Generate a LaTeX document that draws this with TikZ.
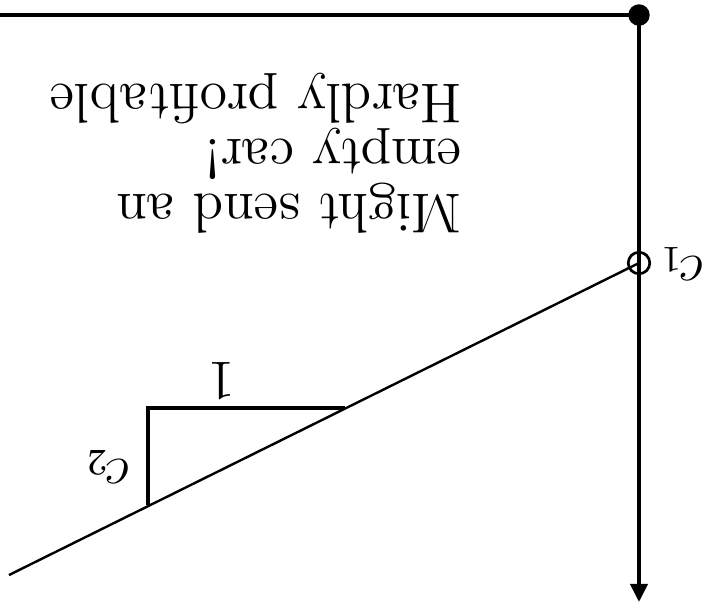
\documentclass[tikz,border=0pt]{standalone}
\usepackage{graphicx}
\usetikzlibrary{arrows.meta}
\newcommand{\bigtxt}[1]{\scalebox{0.87}{\fontsize{12}{12}\selectfont #1}}
\begin{document}
\begin{tikzpicture}[x=0.1862pt,y=-0.1862pt,
  axis/.style={line width=0.75pt},
  tri/.style={line width=0.6pt},
  slope/.style={line width=0.45pt},
  lbl/.style={rotate=180,inner sep=0pt},
  txt/.style={rotate=180,inner sep=0pt,anchor=base west}]
\useasboundingbox (0,0) rectangle (706,613);
\coordinate (L) at (0,15);
\coordinate (O) at (639,15);
\coordinate (E) at (639,602);
\node[circle,fill=black,inner sep=0pt,minimum size=4pt] (dot) at (O) {};
\node[circle,draw,line width=0.5pt,inner sep=0pt,minimum size=4pt] (c1pt) at (639,263) {};
\coordinate (S) at (9,575);
\coordinate (A) at (148,505);
\coordinate (B) at (148,408);
\coordinate (C) at (345,408);
\draw[axis] (L) -- (dot.center);
\draw[axis,-{Triangle[length=3.4pt,width=3.2pt]}] (dot.center) -- (E);
\draw[slope] (c1pt.center) -- (S);
\draw[tri] (A) -- (B) -- (C);
\node[lbl] (c1) at (682,264) {\bigtxt{$c_1$}};
\node[lbl] (c2) at (108,467) {\bigtxt{$c_2$}};
\node[lbl] (one) at (222,381) {\bigtxt{$1$}};
\node[txt] (t1) at (463,84) {\bigtxt{Hardly profitable}};
\node[txt] (t2) at (463,139) {\bigtxt{empty car!}};
\node[txt] (t3) at (463,194) {\bigtxt{Might send an}};
\end{tikzpicture}
\end{document}
